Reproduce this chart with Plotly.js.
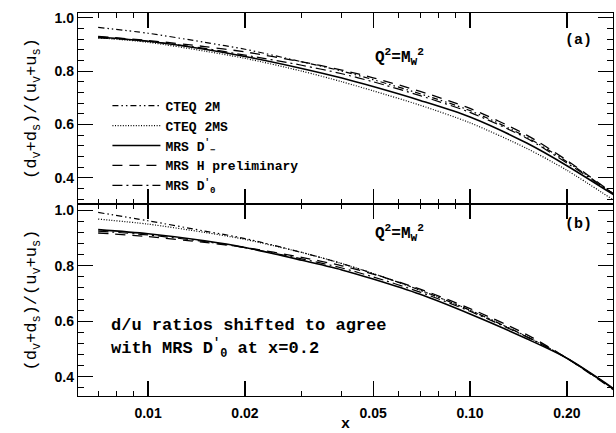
<!DOCTYPE html>
<html>
<head>
<meta charset="utf-8">
<script src="https://cdn.plot.ly/plotly-3.0.1.min.js"></script>
<style>html,body{margin:0;padding:0;background:#fff;}#plot{width:616px;height:433px;}</style>
</head>
<body>
<div id="plot"></div>
<script>
// ---- data ----
const xVals = [0.007, 0.01, 0.015, 0.02, 0.03, 0.04, 0.05, 0.07, 0.1, 0.15, 0.2, 0.28];

// panel (a): unshifted ratios
const cteq2M_a  = [0.964, 0.942, 0.908, 0.882, 0.835, 0.800, 0.768, 0.715, 0.652, 0.552, 0.460, 0.338];
const cteq2MS_a = [0.925, 0.908, 0.875, 0.848, 0.800, 0.760, 0.726, 0.672, 0.606, 0.510, 0.428, 0.315];
const mrsDm_a   = [0.928, 0.912, 0.882, 0.855, 0.810, 0.774, 0.742, 0.690, 0.628, 0.530, 0.445, 0.335];
const mrsH_a    = [0.930, 0.915, 0.892, 0.872, 0.835, 0.804, 0.775, 0.724, 0.660, 0.560, 0.465, 0.338];
const mrsD0_a   = [0.925, 0.912, 0.885, 0.860, 0.822, 0.790, 0.760, 0.708, 0.645, 0.548, 0.455, 0.338];

// panel (b): shifted to agree with MRS D0' at x = 0.2
const cteq2M_b  = [0.992, 0.962, 0.925, 0.898, 0.848, 0.808, 0.772, 0.712, 0.640, 0.545, 0.467, 0.355];
const cteq2MS_b = [0.968, 0.950, 0.920, 0.895, 0.848, 0.808, 0.772, 0.712, 0.640, 0.545, 0.467, 0.355];
const mrsDm_b   = [0.930, 0.915, 0.890, 0.866, 0.820, 0.785, 0.752, 0.697, 0.626, 0.537, 0.467, 0.357];
const mrsH_b    = [0.918, 0.905, 0.884, 0.866, 0.830, 0.800, 0.770, 0.716, 0.646, 0.552, 0.467, 0.352];
const mrsD0_b   = [0.925, 0.911, 0.887, 0.865, 0.825, 0.792, 0.760, 0.705, 0.636, 0.544, 0.467, 0.355];

const seriesNames = ["CTEQ 2M", "CTEQ 2MS", "MRS D<sup>′</sup><sub>−</sub>", "MRS H preliminary", "MRS D<sup>′</sup><sub>0</sub>"];

const xTickVals = [0.01, 0.02, 0.05, 0.1, 0.2];
const xTickText = ["0.01", "0.02", "0.05", "0.10", "0.20"];
const xMinorVals = [0.006, 0.007, 0.008, 0.009, 0.03, 0.04, 0.06, 0.07, 0.08, 0.09];
const yTickVals = [0.4, 0.6, 0.8, 1.0];
const yTickText = ["0.4", "0.6", "0.8", "1.0"];

// ---- styles ----
const dashes = ["6px,3px,1.5px,3px,1.5px,3px", "1px,1.6px", "solid", "10px,7px", "10px,4px,2px,4px"];
const widths = [1.2, 1.2, 1.6, 1.3, 1.2];
const panelA = [cteq2M_a, cteq2MS_a, mrsDm_a, mrsH_a, mrsD0_a];
const panelB = [cteq2M_b, cteq2MS_b, mrsDm_b, mrsH_b, mrsD0_b];

const traces = [];
panelA.forEach((ys, i) => traces.push({
  x: xVals, y: ys, xaxis: 'x2', yaxis: 'y2', mode: 'lines', name: seriesNames[i],
  line: {color: '#000', width: widths[i], dash: dashes[i], shape: 'spline', smoothing: 0.8},
  showlegend: true
}));
panelB.forEach((ys, i) => traces.push({
  x: xVals, y: ys, xaxis: 'x', yaxis: 'y', mode: 'lines', name: seriesNames[i],
  line: {color: '#000', width: widths[i], dash: dashes[i], shape: 'spline', smoothing: 0.8},
  showlegend: false
}));

const mono = "Liberation Mono";
const tickFont = {family: "Liberation Sans", size: 14, color: '#000', weight: 'bold'};
const xRange = [Math.log10(0.00606), Math.log10(0.278)];

function xAxis(extra) {
  return Object.assign({
    type: 'log', range: xRange, showgrid: false, zeroline: false,
    showline: true, linecolor: '#000', linewidth: 1.2, mirror: 'allticks',
    ticks: 'inside', ticklen: 15, tickwidth: 1.1, tickcolor: '#000',
    tickmode: 'array', tickvals: xTickVals, ticktext: xTickText,
    minor: {tickmode: 'array', tickvals: xMinorVals, ticks: 'inside', ticklen: 5, tickwidth: 1, tickcolor: '#000', showgrid: false},
    tickfont: tickFont, ticklabelstandoff: 4, automargin: false, fixedrange: true
  }, extra);
}
function yAxis(extra) {
  return Object.assign({
    showgrid: false, zeroline: false,
    showline: true, linecolor: '#000', linewidth: 1.2, mirror: 'allticks',
    ticks: 'inside', ticklen: 15, tickwidth: 1.1, tickcolor: '#000',
    tickmode: 'array', tickvals: yTickVals, ticktext: yTickText,
    minor: {tick0: 0, dtick: 0.04, ticks: 'inside', ticklen: 6, tickwidth: 1, tickcolor: '#000', showgrid: false},
    tickfont: tickFont, automargin: false, fixedrange: true
  }, extra);
}

const yTitle = "(d<sub>v</sub>+d<sub>s</sub>)/(u<sub>v</sub>+u<sub>s</sub>)";
const titleFont = {family: mono, size: 17, color: '#000'};
const annFont = {family: mono, size: 16, color: '#000', weight: 'bold'};
const tagFont = {family: mono, size: 15, color: '#000', weight: 'bold'};

const layout = {
  width: 616, height: 433,
  margin: {l: 78, r: 3, t: 13, b: 37},
  paper_bgcolor: '#fff', plot_bgcolor: '#fff',
  showlegend: true,
  legend: {x: 0.055, y: 0.797, xanchor: 'left', yanchor: 'top', bgcolor: 'rgba(0,0,0,0)',
           font: {family: mono, size: 13, color: '#000', weight: 'bold'}, itemwidth: 48, tracegroupgap: 0},
  xaxis: xAxis({anchor: 'y', showticklabels: true,
    title: {text: 'x', font: {family: mono, size: 15, color: '#000', weight: 'bold'}, standoff: 5}}),
  xaxis2: xAxis({anchor: 'y2', matches: 'x', showticklabels: false}),
  yaxis: yAxis({domain: [0, 0.501], range: [0.331, 1.022],
    title: {text: yTitle, font: titleFont, standoff: 13}}),
  yaxis2: yAxis({domain: [0.501, 1], range: [0.301, 1.018],
    title: {text: yTitle, font: titleFont, standoff: 13}}),
  annotations: [
    {xref: 'paper', yref: 'paper', x: 0.6, y: 0.92, text: "Q<sup>2</sup>=M<sub>W</sub><sup>2</sup>",
     showarrow: false, font: annFont},
    {xref: 'paper', yref: 'paper', x: 0.6, y: 0.425, text: "Q<sup>2</sup>=M<sub>W</sub><sup>2</sup>",
     showarrow: false, font: annFont},
    {xref: 'paper', yref: 'paper', x: 0.965, y: 0.955, text: "(a)",
     showarrow: false, font: tagFont},
    {xref: 'paper', yref: 'paper', x: 0.965, y: 0.447, text: "(b)",
     showarrow: false, font: tagFont},
    {xref: 'paper', yref: 'paper', x: 0.058, y: 0.155, xanchor: 'left', text: "d/u ratios shifted to agree",
     showarrow: false, font: {family: mono, size: 17, color: '#000', weight: 'bold'}},
    {xref: 'paper', yref: 'paper', x: 0.058, y: 0.087, xanchor: 'left', text: "with MRS D<sup>′</sup><sub>0</sub> at x=0.2",
     showarrow: false, font: {family: mono, size: 17, color: '#000', weight: 'bold'}}
  ]
};

Plotly.newPlot('plot', traces, layout, {staticPlot: true, displayModeBar: false});
</script>
</body>
</html>
